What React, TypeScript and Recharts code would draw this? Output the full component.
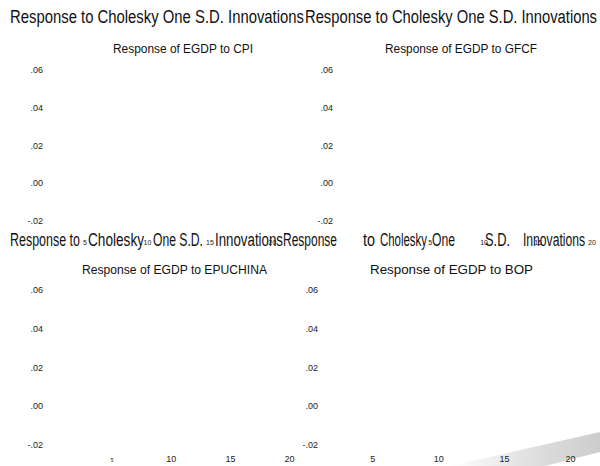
import { LineChart, XAxis, YAxis } from "recharts";

// impulse response horizon (periods)
const PERIODS = [1, 2, 3, 4, 5, 6, 7, 8, 9, 10, 11, 12, 13, 14, 15, 16, 17, 18, 19, 20];
const X_TICKS = [5, 10, 15, 20];
const Y_TICKS = [-0.02, 0, 0.02, 0.04, 0.06];
const Y_DOMAIN = [-0.02, 0.06];

const HEADER = "Response to Cholesky One S.D. Innovations";
const PANEL_TITLES = [
  "Response of EGDP to CPI",
  "Response of EGDP to GFCF",
  "Response of EGDP to EPUCHINA",
  "Response of EGDP to BOP",
];

// second header row is broken up around the top panels' tick labels
const HEADER_PIECES: [string, number, number][] = [
  ["Response to", 10, 80],
  ["Cholesky", 88, 144],
  ["One S.D.", 153, 203],
  ["Innovations", 215, 283],
  ["Response", 283, 337],
  ["to", 363, 375],
  ["Cholesky", 380, 427],
  ["One", 432, 455],
  ["S.D.", 485, 510],
  ["Innovations", 523, 585],
];

const FONT = "'Liberation Sans', Arial, Helvetica, sans-serif";

const data = PERIODS.map((p) => ({ period: p }));

const fmtY = (v: number) => v.toFixed(2).replace("0.", ".");

type PanelProps = {
  left: number;
  top: number;
  height: number;
  plotTop: number;
  plotBottom: number;
  plotLeft: number;
  plotRight: number;
  labelRight: number;
  xTickDrop: number;
  xTickFont: number;
  tinyFirst?: boolean;
};

function Panel(p: PanelProps) {
  const width = 300;
  const xAxisH = p.height - p.plotBottom;

  const renderXTick = (props: any) => {
    const v = props.payload.value;
    const size = p.tinyFirst && v === 5 ? 5 : p.xTickFont;
    return (
      <text
        x={props.x}
        y={props.y + p.xTickDrop}
        textAnchor="middle"
        fontSize={size}
        fontFamily={FONT}
        fill="#222"
      >
        {v}
      </text>
    );
  };

  const renderYTick = (props: any) => (
    <text
      x={p.labelRight}
      y={props.y}
      dy="0.35em"
      textAnchor="end"
      fontSize={9}
      fontFamily={FONT}
      fill="#222"
    >
      {fmtY(props.payload.value)}
    </text>
  );

  return (
    <div style={{ position: "absolute", left: p.left, top: p.top }}>
      <LineChart
        width={width}
        height={p.height}
        data={data}
        margin={{ top: p.plotTop, right: width - p.plotRight, bottom: 0, left: 0 }}
      >
        <XAxis
          dataKey="period"
          type="number"
          domain={[1, 20]}
          ticks={X_TICKS}
          axisLine={false}
          tickLine={false}
          tickSize={0}
          tickMargin={0}
          height={xAxisH}
          interval={0}
          tick={renderXTick}
        />
        <YAxis
          type="number"
          domain={Y_DOMAIN}
          allowDataOverflow
          ticks={Y_TICKS}
          axisLine={false}
          tickLine={false}
          tickSize={0}
          tickMargin={0}
          width={p.plotLeft}
          interval={0}
          tick={renderYTick}
        />
      </LineChart>
    </div>
  );
}

export default function App() {
  return (
    <div
      style={{
        position: "fixed",
        left: 0,
        top: 0,
        width: 600,
        height: 466,
        background: "#fff",
        overflow: "hidden",
        fontFamily: FONT,
      }}
    >
      {/* page-curl shading behind everything */}
      <svg width={600} height={466} style={{ position: "absolute", left: 0, top: 0 }}>
        <defs>
          <linearGradient id="curl" x1="0" y1="0" x2="1" y2="0">
            <stop offset="0%" stopColor="#ffffff" />
            <stop offset="60%" stopColor="#dcdcdc" />
            <stop offset="100%" stopColor="#cdcdcd" />
          </linearGradient>
        </defs>
        <polygon points="450,466 600,432 600,452 545,466" fill="url(#curl)" />
      </svg>

      <Panel left={0} top={0} height={250} plotTop={70} plotBottom={221}
        plotLeft={35} plotRight={272.5} labelRight={43} xTickDrop={24} xTickFont={7} />
      <Panel left={300} top={0} height={250} plotTop={70} plotBottom={221}
        plotLeft={87} plotRight={292} labelRight={33} xTickDrop={24} xTickFont={7} />
      <Panel left={0} top={240} height={226} plotTop={50} plotBottom={205}
        plotLeft={65} plotRight={289.5} labelRight={43} xTickDrop={16.5} xTickFont={9} tinyFirst />
      <Panel left={300} top={240} height={226} plotTop={50} plotBottom={205}
        plotLeft={20} plotRight={270.5} labelRight={18} xTickDrop={16.5} xTickFont={9} />

      <svg
        width={600}
        height={466}
        style={{ position: "absolute", left: 0, top: 0, pointerEvents: "none" }}
      >
        <text x={10} y={22.7} fontSize={18} fontFamily={FONT} fill="#111"
          textLength={294} lengthAdjust="spacingAndGlyphs">{HEADER}</text>
        <text x={305} y={22.7} fontSize={18} fontFamily={FONT} fill="#111"
          textLength={292} lengthAdjust="spacingAndGlyphs">{HEADER}</text>

        {HEADER_PIECES.map(([t, x0, x1], i) => (
          <text key={i} x={x0} y={245.5} fontSize={18} fontFamily={FONT} fill="#111"
            textLength={x1 - x0} lengthAdjust="spacingAndGlyphs">{t}</text>
        ))}

        <text x={113} y={53.3} fontSize={12.5} fontFamily={FONT} fill="#111"
          textLength={140} lengthAdjust="spacingAndGlyphs">{PANEL_TITLES[0]}</text>
        <text x={385} y={53.3} fontSize={12.5} fontFamily={FONT} fill="#111"
          textLength={152} lengthAdjust="spacingAndGlyphs">{PANEL_TITLES[1]}</text>
        <text x={82} y={274.3} fontSize={12.5} fontFamily={FONT} fill="#111"
          textLength={185} lengthAdjust="spacingAndGlyphs">{PANEL_TITLES[2]}</text>
        <text x={370} y={274.3} fontSize={12.5} fontFamily={FONT} fill="#111"
          textLength={163} lengthAdjust="spacingAndGlyphs">{PANEL_TITLES[3]}</text>
      </svg>
    </div>
  );
}
